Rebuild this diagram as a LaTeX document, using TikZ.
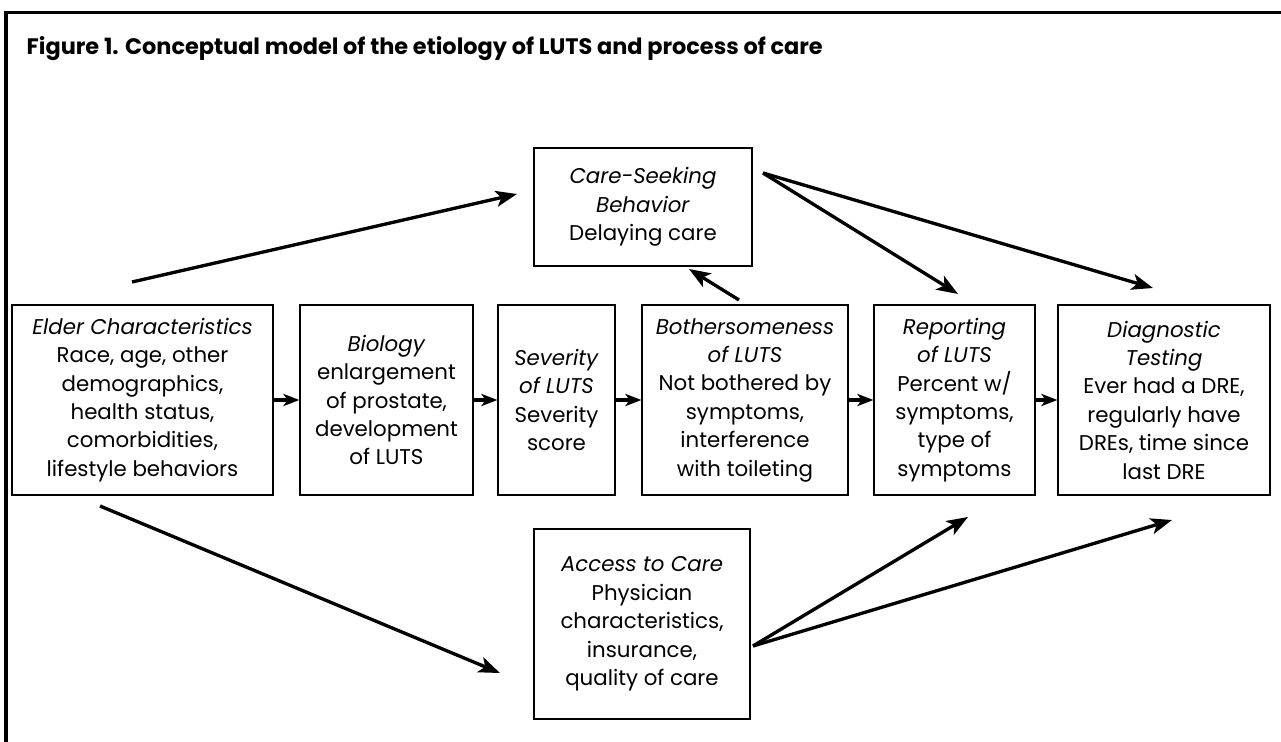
\documentclass[tikz,border=0pt]{standalone}
\usepackage{fontspec}
\setmainfont{Poppins}
\usetikzlibrary{arrows.meta}

\tikzset{
    box/.style={draw, line width=0.8pt, align=center, inner sep=0pt,
        font=\fontsize{16}{21.3}\selectfont},
    rowbox/.style={box, minimum height=142.5pt},
    arr/.style={line width=2.5pt, -{Stealth[length=16pt, width=12pt, inset=4pt]}},
    shortarr/.style={line width=2.4pt, -{Stealth[length=12pt, width=9pt, inset=3pt]}}
}

\begin{document}
\begin{tikzpicture}[x=0.75pt, y=-0.75pt]
                \useasboundingbox (0,0) rectangle (1281,742);

                % frame
                \draw[line width=2.4pt] (4,12.5) -- (1281,12.5);
                \draw[line width=2.4pt] (6,11) -- (6,742);

                \node[anchor=base west, font=\bfseries\fontsize{16.8}{20}\selectfont] (title) at (22,55)
                    {Figure 1. Conceptual model of the etiology of LUTS and process of care};

                % main row
                \node[rowbox, minimum width=195.75pt] (elder) at (142.5,400)
                    {\textit{Elder Characteristics}\\Race, age, other\\demographics,\\health status,\\comorbidities,\\lifestyle behaviors};
                \node[rowbox, minimum width=129.75pt] (bio) at (386.5,400)
                    {\textit{Biology}\\enlargement\\of prostate,\\development\\of LUTS};
                \node[rowbox, minimum width=87.75pt] (sev) at (556.5,400)
                    {\textit{Severity}\\\textit{of LUTS}\\Severity\\score};
                \node[rowbox, minimum width=154.5pt] (both) at (745,400)
                    {\textit{Bothersomeness}\\\textit{of LUTS}\\Not bothered by\\symptoms,\\interference\\with toileting};
                \node[rowbox, minimum width=120.75pt] (rep) at (954.5,400)
                    {\textit{Reporting}\\\textit{of LUTS}\\Percent w/\\symptoms,\\type of\\symptoms};
                \node[rowbox, minimum width=159pt] (diag) at (1164,400)
                    {\textit{Diagnostic}\\\textit{Testing}\\Ever had a DRE,\\regularly have\\DREs, time since\\last DRE};

                \node[box, minimum width=163.5pt, minimum height=88.5pt] (care) at (643,207)
                    {\textit{Care-Seeking}\\\textit{Behavior}\\Delaying care};
                \node[box, minimum width=162pt, minimum height=142.5pt] (access) at (642,624)
                    {\textit{Access to Care}\\Physician\\characteristics,\\insurance,\\quality of care};

                \draw[shortarr] (elder) -- (bio);
                \draw[shortarr] (bio) -- (sev);
                \draw[shortarr] (sev) -- (both);
                \draw[shortarr] (both) -- (rep);
                \draw[shortarr] (rep) -- (diag);

                % loose ends of the long arrows
                \coordinate (elderup) at (132,282);
                \coordinate (caretip) at (517,194);
                \coordinate (bothup) at (739,300);
                \coordinate (bothtip) at (689,269);
                \coordinate (careout) at (763,173);
                \coordinate (reptop) at (958,294);
                \coordinate (diagtop) at (1153,288);
                \coordinate (elderdown) at (100,506);
                \coordinate (accesstip) at (500,673);
                \coordinate (accessout) at (753,646);
                \coordinate (repbot) at (968,517);
                \coordinate (diagbot) at (1172,520);

                \draw[arr] (elderup) -- (caretip);
                \draw[arr] (bothup) -- (bothtip);
                \draw[arr] (careout) -- (reptop);
                \draw[arr] (careout) -- (diagtop);
                \draw[arr] (elderdown) -- (accesstip);
                \draw[arr] (accessout) -- (repbot);
                \draw[arr] (accessout) -- (diagbot);
            \end{tikzpicture}
\end{document}
